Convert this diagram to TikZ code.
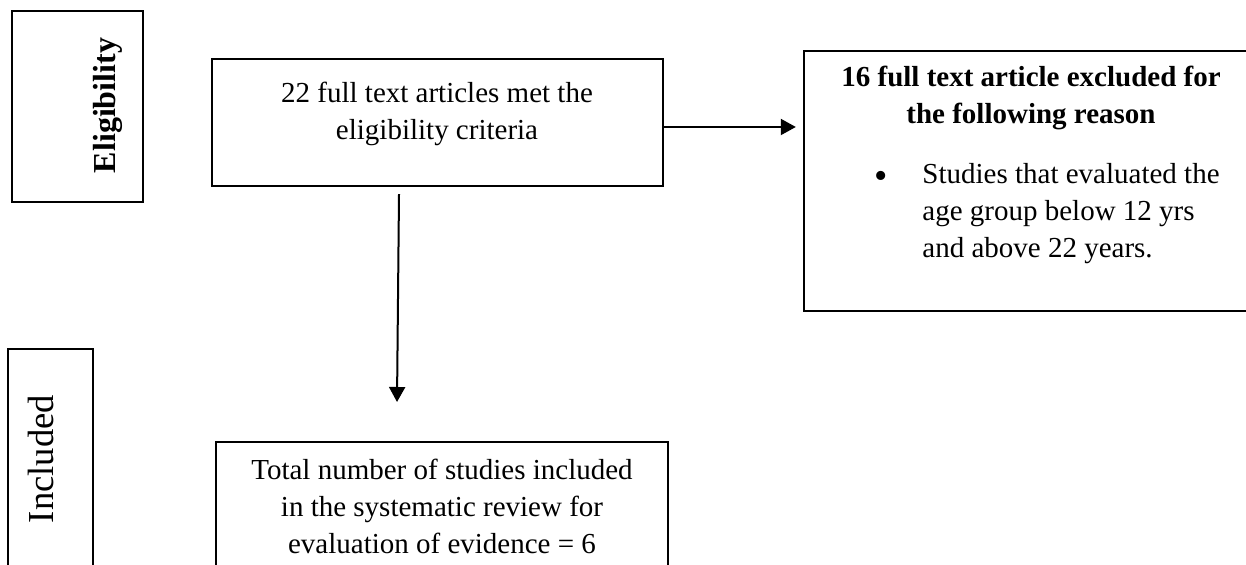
\documentclass[tikz,border=0pt]{standalone}
\usepackage{fontspec}
\setmainfont{Liberation Serif}
\usepackage{tikz}
\usetikzlibrary{calc,arrows.meta}

\begin{document}
\begin{tikzpicture}[x=0.5pt,y=-0.5pt,
  frame/.style={draw,line width=1.2pt,inner sep=0pt},
  body/.style={inner sep=0pt,font=\fontsize{14.5}{18.5}\selectfont},
  flow/.style={->,>={Triangle[length=7.5pt,width=8pt]},line width=1pt}]

\pgfmathsetmacro{\ARRY}{-2.25}   % right arrow, below the centre of the box
\pgfmathsetmacro{\GAP}{3.5}

\useasboundingbox (0,0) rectangle (1246,565);

% phase tags
\node[frame,minimum width=65.5pt,minimum height=95.5pt] (eligtag) at (77.5,106.5) {};
\node[rotate=90,anchor=base,inner sep=0pt,font=\fontsize{16}{19}\selectfont\bfseries] (eligword) at (115,105.5) {Eligibility};
\node[frame,minimum width=42.5pt,minimum height=145.5pt] (incltag) at (50.5,494.5) {};
\node[rotate=90,anchor=base,inner sep=0pt,font=\fontsize{18.3}{22}\selectfont] (inclword) at (53,459) {Included};

% boxes (text placed by the baseline of its last line)
\node[frame,minimum width=225.5pt,minimum height=63.5pt] (metbox) at (437.5,122.5) {};
\node[body,align=center,anchor=base] (mettext) at (437,140) {22 full text articles met the\\eligibility criteria};

\node[frame,minimum width=227pt,minimum height=130pt] (exclbox) at (1031,181) {};
\node[body,align=center,anchor=base,font=\fontsize{14.5}{18.5}\selectfont\bfseries] (excltitle) at (1031,124) {16 full text article excluded for\\the following reason};
\node[body,anchor=base,font=\fontsize{19}{19}\selectfont] (exclbullet) at (881,189) {\textbullet};
\node[body,align=left,anchor=base west] (exclreason) at (922,258) {Studies that evaluated the\\age group below 12 yrs\\and above 22 years.};

\node[frame,minimum width=226pt,minimum height=74pt] (inclbox) at (442,516) {};
\node[body,align=center,anchor=base] (incltext) at (442,554) {Total number of studies included\\in the systematic review for\\evaluation of evidence = 6};

% arrows
\draw[flow,shorten >=\GAP pt] ([yshift=\ARRY pt]metbox.east) -- ([yshift=\ARRY pt]metbox.east -| exclbox.west);
\coordinate (downend) at (397,402);
\draw[flow] ([xshift=-19.25pt,yshift=-\GAP pt]metbox.south) -- (downend);
\end{tikzpicture}
\end{document}
